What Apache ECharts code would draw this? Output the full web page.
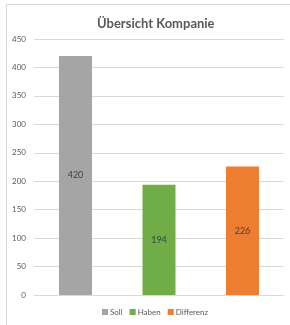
<!DOCTYPE html>
<html><head><meta charset="utf-8">
<script src="https://cdn.jsdelivr.net/npm/echarts@6/dist/echarts.min.js"></script>
<style>html,body{margin:0;padding:0;background:#fff}#c{width:290px;height:325px}</style>
</head><body><div id="c"></div>
<script>
const categories = ['Übersicht'];
const seriesNames = ['Soll', 'Haben', 'Differenz'];
const soll = [420];
const haben = [194];
const differenz = [226];
const yTicks = [0, 50, 100, 150, 200, 250, 300, 350, 400, 450];
const colors = ['#A5A5A5', '#70AD47', '#ED7D31'];
const values = [soll, haben, differenz];
const F = 'Lato';

const chart = echarts.init(document.getElementById('c'));
chart.setOption({
  animation: false,
  graphic: [{type:'rect', shape:{x:6.5, y:4.5, width:300, height:330}, style:{fill:'none', stroke:'#D9D9D9', lineWidth:1}}],
  title: {text:'Übersicht Kompanie', left:92, top:12, textStyle:{fontFamily:F, fontWeight:'bold', fontSize:13, color:'#595959'}},
  legend: {bottom:4, left:97, itemWidth:6, itemHeight:6, itemGap:7, icon:'rect',
    textStyle:{fontFamily:F, fontSize:8, color:'#595959', padding:[0,0,0,-3]}, data: seriesNames},
  grid: {left:34, right:6, top:39, bottom:30},
  xAxis: {type:'category', data:categories, axisLabel:{show:false}, axisTick:{show:false}, axisLine:{lineStyle:{color:'#D9D9D9'}}},
  yAxis: {type:'value', min:yTicks[0], max:yTicks[yTicks.length-1], interval:50,
    axisLabel:{fontFamily:F, fontSize:8, color:'#595959', margin:8},
    splitLine:{lineStyle:{color:'#D9D9D9'}}, axisLine:{show:false}, axisTick:{show:false}},
  series: seriesNames.map((n,i)=>({
    name:n, type:'bar', data:values[i], barWidth:33, barGap:'153%', barCategoryGap:'20%',
    itemStyle:{color:colors[i]},
    label:{show:true, position:'inside', fontFamily:F, fontSize:9, color:'#404040'}
  }))
});
</script></body></html>
